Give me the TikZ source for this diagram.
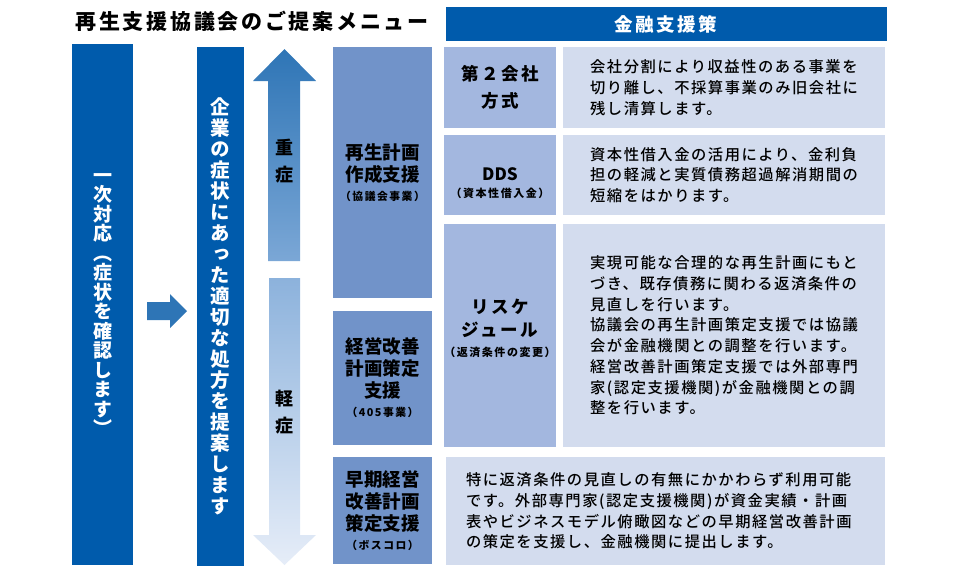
\documentclass[tikz,border=0pt]{standalone}
\usepackage{fontspec}
\setmainfont{Noto Sans CJK JP}
\newfontfamily\jpwide{Noto Sans CJK JP}[LetterSpace=10, UprightFont=* Medium]
\newfontfamily\jptitle{Noto Sans CJK JP}[LetterSpace=13]
\newfontfamily\jptag{Noto Sans CJK JP}[LetterSpace=14]
\newfontfamily\jpvert{Noto Sans CJK JP}[RawFeature=+vert]
\usepackage{tikz}
\usetikzlibrary{positioning}
\definecolor{menublue}{HTML}{005BAC}
\definecolor{stepblue}{HTML}{2E75B6}
\definecolor{planblue}{HTML}{7193C9}
\definecolor{tagblue}{HTML}{A3B7DF}
\definecolor{noteblue}{HTML}{D3DCEE}
\definecolor{upbottom}{HTML}{7BA7D6}
\definecolor{downtop}{HTML}{8CB2DC}
\definecolor{downbottom}{HTML}{E6EDF8}
\newcommand{\plansmall}{\jptag\fontsize{10.8}{13}\selectfont}
\newcommand{\tagsmall}{\jptag\fontsize{11}{13}\selectfont}

\begin{document}
\begin{tikzpicture}[x=1pt, y=-1pt,
  darkbox/.style={fill=menublue, text=white, inner sep=0pt, outer sep=0pt, align=center},
  planbox/.style={fill=planblue, inner sep=0pt, outer sep=0pt, minimum width=99pt, align=center, font=\bfseries\fontsize{18.5}{22}\selectfont},
  tagbox/.style={fill=tagblue, inner sep=0pt, outer sep=0pt, minimum width=112pt, align=center, font=\jptag\bfseries\fontsize{17.5}{27}\selectfont},
  notebox/.style={fill=noteblue, inner sep=0pt, outer sep=0pt, align=left, font=\jpwide\fontsize{15.3}{20.7}\selectfont}]
\useasboundingbox (0,0) rectangle (963,566);

\node[font=\jptitle\bfseries\fontsize{21}{21}\selectfont] (title) at (252,21) {再生支援協議会のご提案メニュー};

\node[darkbox, minimum width=441pt, minimum height=34pt, font=\jptag\bfseries\fontsize{18.5}{18.5}\selectfont] (header) at (666,24) {金融支援策};

\node[darkbox, minimum width=61pt, minimum height=521pt, font=\jpvert\bfseries\fontsize{19}{19.5}\selectfont] (first) at (102.5,304.5) {一\\次\\対\\応\\（\\症\\状\\を\\確\\認\\し\\ま\\す\\）};

\node[darkbox, minimum width=47pt, minimum height=519pt, font=\jpvert\bfseries\fontsize{19.5}{21}\selectfont] (second) at (220.5,306.5) {企\\業\\の\\症\\状\\に\\あ\\っ\\た\\適\\切\\な\\処\\方\\を\\提\\案\\し\\ま\\す};

% step arrow between the two columns
\fill[stepblue] (147,302) -- (170,302) -- (170,294) -- (187,311) -- (170,328) -- (170,320) -- (147,320) -- cycle;

% severity arrows
\shade[top color=stepblue, bottom color=upbottom] (268,261) -- (268,81) -- (253,81) -- (284.5,49) -- (316,81) -- (300,81) -- (300,261) -- cycle;
\shade[top color=downtop, bottom color=downbottom] (269,278) -- (300,278) -- (300,535) -- (316,535) -- (284.5,565) -- (253,535) -- (269,535) -- cycle;
\node[align=center, font=\bfseries\fontsize{18}{27}\selectfont] (severe) at (284.5,161.5) {重\\症};
\node[align=center, font=\bfseries\fontsize{18}{27}\selectfont] (mild) at (284.5,412) {軽\\症};

\node[planbox, minimum height=251pt] (plan) at (382.5,172.5) {再生計画\\作成支援\\[-3pt]{\plansmall （協議会事業）}};
\node[planbox, minimum height=134pt, below=13pt of plan] (improve) {経営改善\\計画策定\\支援\\[-3pt]{\plansmall （405事業）}};
\node[planbox, minimum height=107pt, below=12pt of improve] (early) {早期経営\\改善計画\\策定支援\\[-3pt]{\plansmall （ボスコロ）}};

\node[tagbox, minimum height=81pt] (second_co) at (500,87.5) {第２会社\\方式};
\node[tagbox, minimum height=80pt, below=7pt of second_co] (dds) {\rule{0pt}{30pt}{\rmfamily\bfseries\fontsize{17}{17}\selectfont DDS}\\[-10pt]{\tagsmall （資本性借入金）}};
\node[tagbox, minimum height=223pt, below=9pt of dds] (resched) {リスケ\\[-4pt]ジュール\\[-7pt]{\tagsmall （返済条件の変更）}\rule[-16pt]{0pt}{16pt}};

\node[notebox, minimum width=322pt, minimum height=81pt, right=7pt of second_co] (second_co_note) {会社分割により収益性のある事業を\\切り離し、不採算事業のみ旧会社に\\残し清算します。};
\node[notebox, minimum width=322pt, minimum height=80pt, right=7pt of dds] (dds_note) {資本性借入金の活用により、金利負\\担の軽減と実質債務超過解消期間の\\短縮をはかります。};
\node[notebox, minimum width=322pt, minimum height=223pt, right=7pt of resched] (resched_note) {実現可能な合理的な再生計画にもと\\づき、既存債務に関わる返済条件の\\見直しを行います。\\協議会の再生計画策定支援では協議\\会が金融機関との調整を行います。\\経営改善計画策定支援では外部専門\\家(認定支援機関)が金融機関との調\\整を行います。};

\node[notebox, minimum width=439pt, minimum height=108pt] (early_note) at (665.5,511) {};
\node[notebox, fill=none, anchor=west] (early_text) at ([xshift=20pt]early_note.west) {特に返済条件の見直しの有無にかかわらず利用可能\\です。外部専門家(認定支援機関)が資金実績・計画\\表やビジネスモデル俯瞰図などの早期経営改善計画\\の策定を支援し、金融機関に提出します。};
\end{tikzpicture}
\end{document}
